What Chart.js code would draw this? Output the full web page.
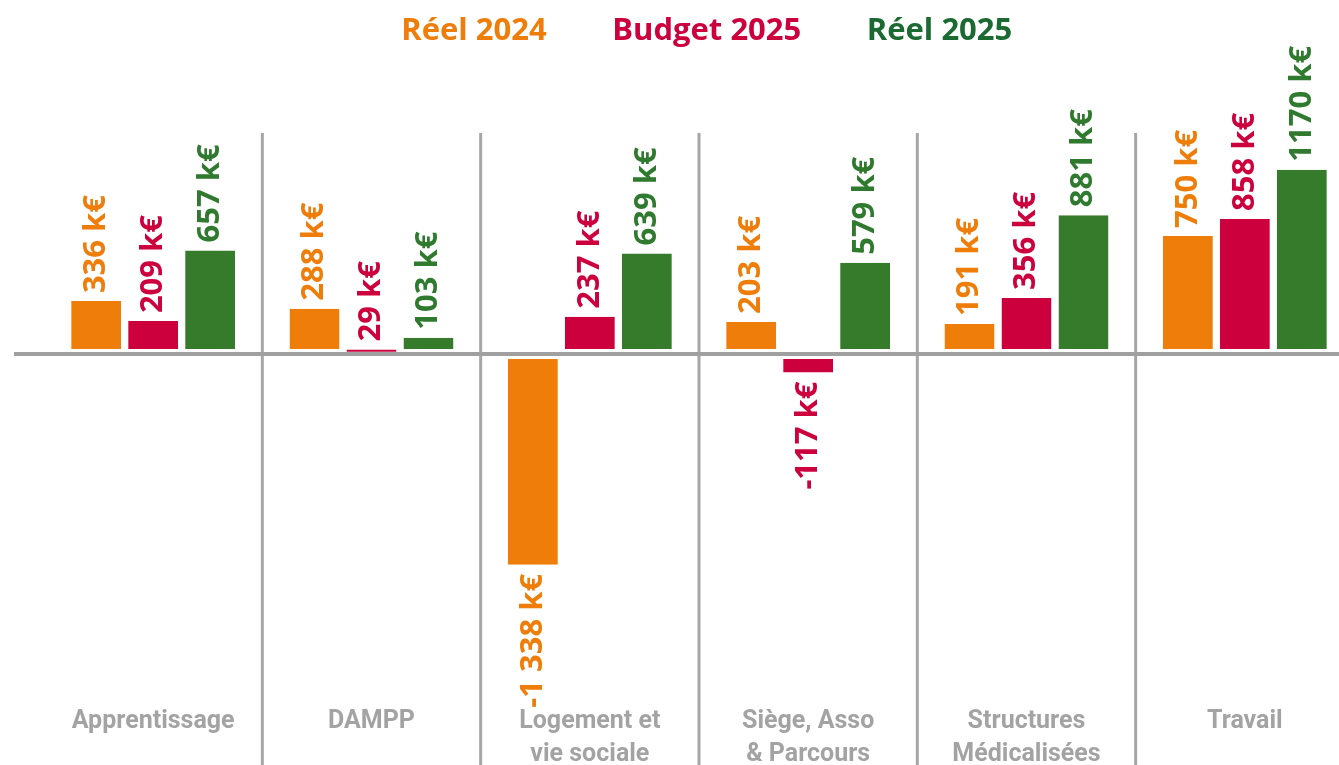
<!DOCTYPE html>
<html>
<head>
<meta charset="utf-8">
<script src="https://cdn.jsdelivr.net/npm/chart.js@4.4.1/dist/chart.umd.min.js"></script>
<style>
  html, body { margin: 0; background: #fff; overflow: hidden; }
  #wrap { width: 1355px; height: 775px; position: relative; }
</style>
</head>
<body>
<div id="wrap"><canvas id="resultChart"></canvas></div>
<script>
var labels = [
    ['Apprentissage'],
    ['DAMPP'],
    ['Logement et', 'vie sociale'],
    ['Siège, Asso', '& Parcours'],
    ['Structures', 'Médicalisées'],
    ['Travail']
];

var reel2024 = [336, 288, -1338, 203, 191, 750];
var budget2025 = [209, 29, 237, -117, 356, 858];
var reel2025 = [657, 103, 639, 579, 881, 1170];

var legendColors = ['#ee7d0a', '#cc003d', '#1b6a32'];

function formatKe(v) {
    var s = String(Math.abs(v));
    if (v < 0 && s.length > 3) {
        s = s.slice(0, s.length - 3) + ' ' + s.slice(-3);
    }
    return (v < 0 ? '-' : '') + s + ' k€';
}

// gap between the bars and the zero line
function baseGap(context) {
    var value = context.raw;
    return value >= 0 ? { top: 0, right: 0, bottom: 5, left: 0 } : { top: 5, right: 0, bottom: 0, left: 0 };
}

// separators between groups, zero line, rotated value labels
var decorations = {
    id: 'decorations',
    beforeDatasetsDraw: function(chart) {
        var ctx = chart.ctx;
        var x = chart.scales.x;
        ctx.save();
        ctx.strokeStyle = '#a6a6a6';
        ctx.lineWidth = 3;
        for (var i = 1; i < chart.data.labels.length; i++) {
            var sx = (x.getPixelForValue(i - 1) + x.getPixelForValue(i)) / 2;
            ctx.beginPath();
            ctx.moveTo(sx, 133);
            ctx.lineTo(sx, chart.height);
            ctx.stroke();
        }
        ctx.restore();
    },
    afterDatasetsDraw: function(chart) {
        var ctx = chart.ctx;
        var y0 = chart.scales.y.getPixelForValue(0);
        ctx.save();
        ctx.strokeStyle = '#a0a0a0';
        ctx.lineWidth = 4;
        ctx.beginPath();
        ctx.moveTo(14, y0);
        ctx.lineTo(chart.width, y0);
        ctx.stroke();
        ctx.restore();

        chart.data.datasets.forEach(function(dataset, i) {
            var meta = chart.getDatasetMeta(i);
            meta.data.forEach(function(bar, j) {
                var value = dataset.data[j];
                ctx.save();
                ctx.fillStyle = dataset.labelColor;
                ctx.font = 'bold 31px "Open Sans"';
                ctx.textBaseline = 'middle';
                if (value >= 0) {
                    ctx.translate(bar.x, bar.y - 8);
                    ctx.rotate(-Math.PI / 2);
                    ctx.textAlign = 'left';
                } else {
                    ctx.translate(bar.x, bar.y + 9);
                    ctx.rotate(-Math.PI / 2);
                    ctx.textAlign = 'right';
                }
                ctx.fillText(formatKe(value), 0, 0);
                ctx.restore();
            });
        });
    }
};

var ctx = document.getElementById('resultChart').getContext('2d');
new Chart(ctx, {
    type: 'bar',
    data: {
        labels: labels,
        datasets: [{
            label: 'Réel 2024',
            data: reel2024,
            backgroundColor: '#ee7d0a',
            labelColor: '#ee7d0a',
            borderColor: '#ffffff',
            borderWidth: baseGap,
            borderSkipped: false
        }, {
            label: 'Budget 2025',
            data: budget2025,
            backgroundColor: '#cc003d',
            labelColor: '#cc003d',
            borderColor: '#ffffff',
            borderWidth: baseGap,
            borderSkipped: false
        }, {
            label: 'Réel 2025',
            data: reel2025,
            backgroundColor: '#367a2c',
            labelColor: '#2f7a2e',
            borderColor: '#ffffff',
            borderWidth: baseGap,
            borderSkipped: false
        }]
    },
    options: {
        responsive: true,
        maintainAspectRatio: false,
        animation: false,
        layout: {
            padding: { top: -34, left: 44, right: 1, bottom: 0 }
        },
        datasets: {
            bar: {
                categoryPercentage: 0.783,
                barPercentage: 0.877
            }
        },
        plugins: {
            tooltip: { enabled: false },
            legend: {
                position: 'top',
                labels: {
                    boxWidth: 0,
                    padding: 50,
                    font: { family: 'Open Sans', size: 31, weight: 'bold' },
                    generateLabels: function(chart) {
                        return chart.data.datasets.map(function(ds, i) {
                            return {
                                text: ds.label,
                                fontColor: legendColors[i],
                                fillStyle: 'transparent',
                                strokeStyle: 'transparent',
                                lineWidth: 0,
                                hidden: false,
                                datasetIndex: i
                            };
                        });
                    }
                }
            }
        },
        scales: {
            x: {
                border: { display: false },
                grid: { display: false, drawTicks: false },
                ticks: {
                    color: '#a3a3a3',
                    padding: 4,
                    autoSkip: false,
                    maxRotation: 0,
                    font: { family: 'Roboto', size: 25, weight: 'bold', lineHeight: 1.32 }
                }
            },
            y: {
                display: false,
                min: -2203,
                max: 1886
            }
        }
    },
    plugins: [decorations]
});
</script>
</body>
</html>
